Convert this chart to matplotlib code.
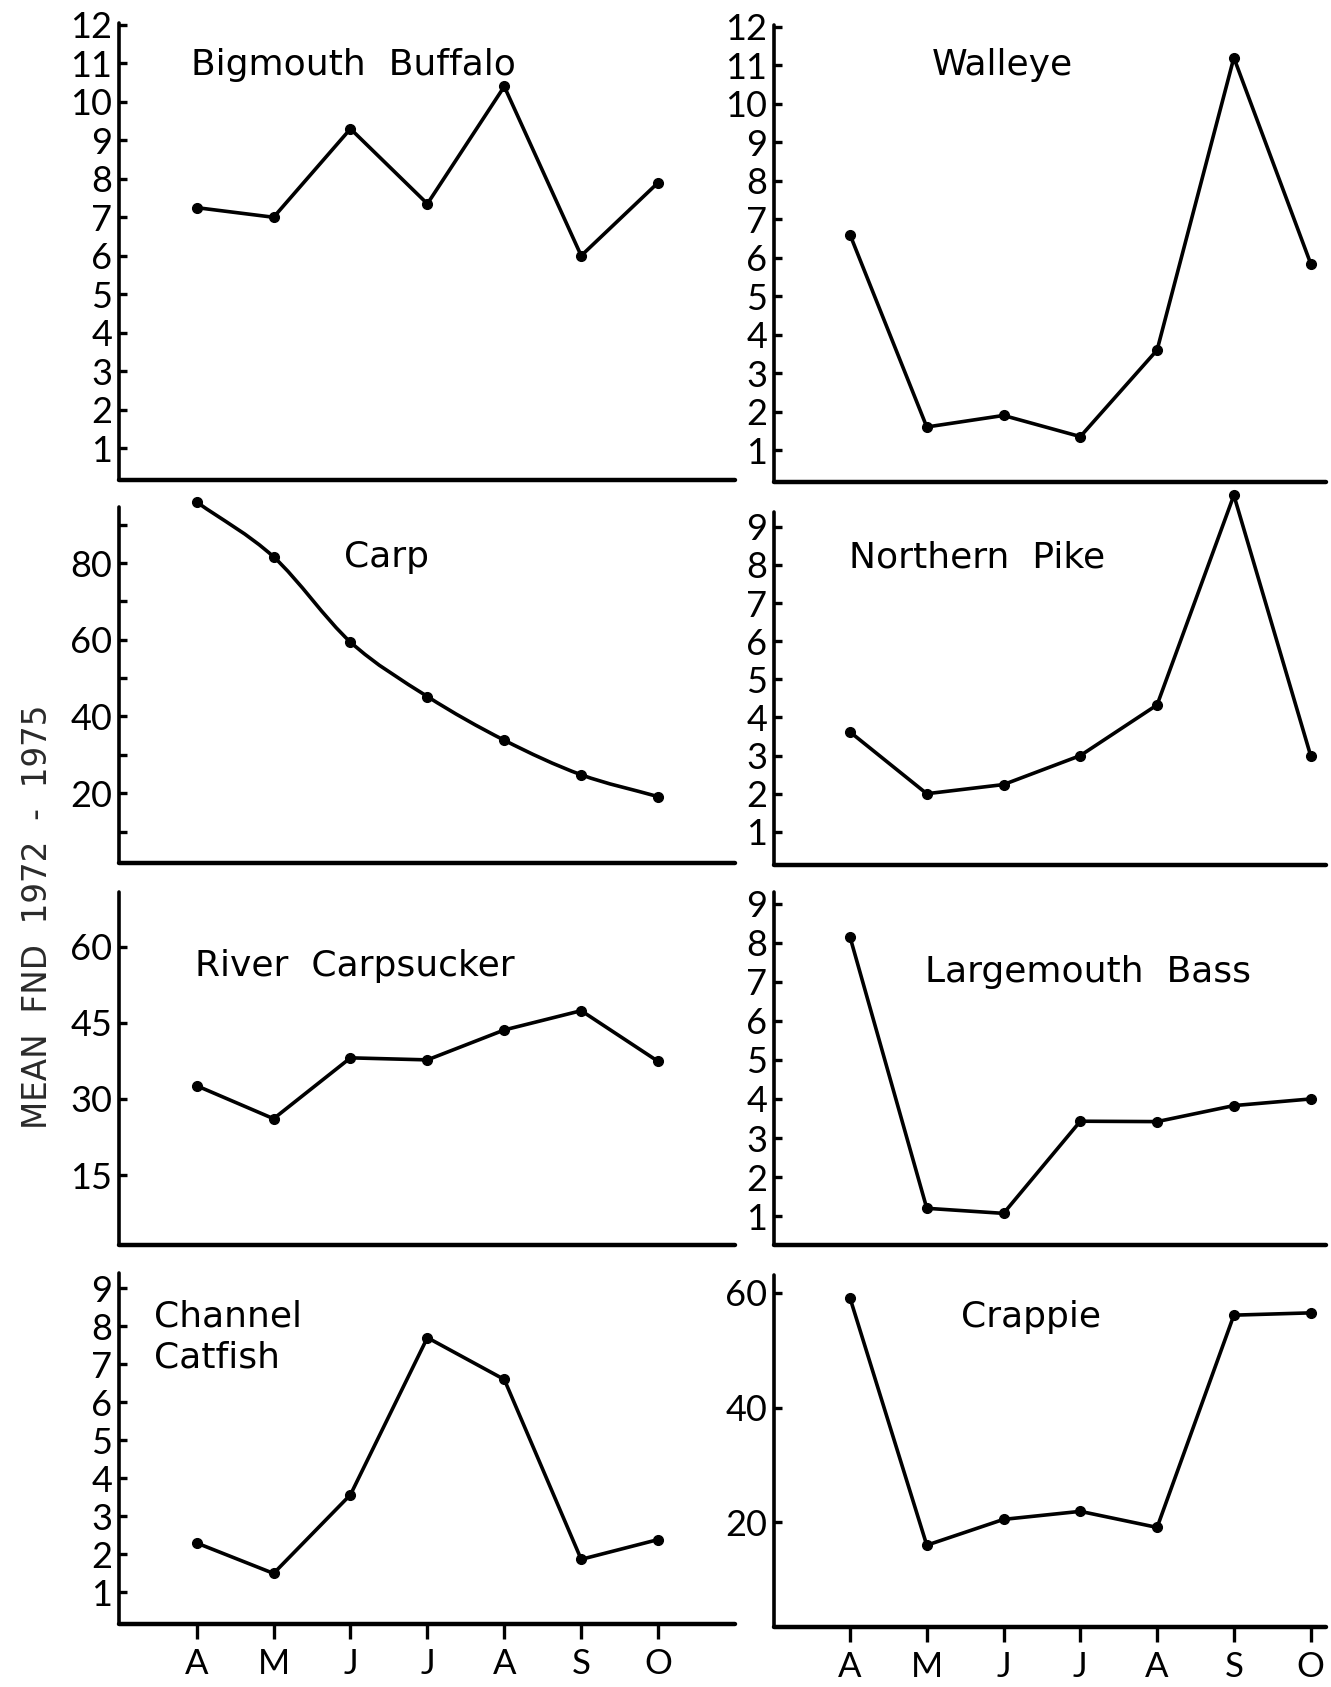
import numpy as np
import matplotlib
matplotlib.use("Agg")
import matplotlib.pyplot as plt
from matplotlib.path import Path
from matplotlib.patches import PathPatch

plt.rcParams['font.family'] = ['Lato', 'DejaVu Sans']
plt.rcParams['font.weight'] = 'normal'

# Months sampled (April through October)
months = ['A', 'M', 'J', 'J', 'A', 'S', 'O']

# Mean catch per net-day, 1972-1975
bigmouth_buffalo = [7.25, 7.0, 9.3, 7.35, 10.4, 6.0, 7.9]
walleye = [6.6, 1.6, 1.9, 1.35, 3.6, 11.2, 5.85]
carp = [95.9, 81.6, 59.4, 45.2, 33.8, 24.8, 19.1]
northern_pike = [3.62, 2.0, 2.24, 3.0, 4.33, 9.83, 3.0]
river_carpsucker = [32.6, 26.1, 38.1, 37.7, 43.6, 47.4, 37.4]
largemouth_bass = [8.15, 1.2, 1.07, 3.43, 3.42, 3.83, 4.0]
channel_catfish = [2.3, 1.5, 3.57, 7.7, 6.6, 1.87, 2.39]
crappie = [59.1, 16.0, 20.5, 21.9, 19.1, 56.1, 56.5]

W, H = 1331, 1687
fig = plt.figure(figsize=(W / 100, H / 100), dpi=100)
fig.patch.set_facecolor('white')

x = np.arange(len(months))

LEFT = dict(x0=119, x1=735, xlim=(-1.01, 7.0))
RIGHT = dict(x0=774, x1=1326, xlim=(-0.99, 6.2))

# name, values, column, top px, bottom px, ylim, major ticks, minor ticks, title px, smooth
panels = [
    ("Bigmouth  Buffalo", bigmouth_buffalo, LEFT, 23, 480, (0.17, 12.05), range(1, 13), [], (191, 65), False),
    ("Walleye", walleye, RIGHT, 25, 482, (0.17, 12.05), range(1, 13), [], (932, 65), False),
    ("Carp", carp, LEFT, 507, 863, (1.8, 94.6), [20, 40, 60, 80], [10, 30, 50, 70, 90], (344, 557), True),
    ("Northern  Pike", northern_pike, RIGHT, 512, 865, (0.13, 9.39), range(1, 10), [], (849, 557), False),
    ("River  Carpsucker", river_carpsucker, LEFT, 892, 1245, (1.2, 70.8), [15, 30, 45, 60], [], (195, 966), False),
    ("Largemouth  Bass", largemouth_bass, RIGHT, 892, 1245, (0.26, 9.3), range(1, 10), [], (925, 972), False),
    ("Channel\nCatfish", channel_catfish, LEFT, 1273, 1624, (0.17, 9.4), range(1, 10), [], (154, 1337), False),
    ("Crappie", crappie, RIGHT, 1275, 1627, (1.74, 63.1), [20, 40, 60], [], (961, 1317), False),
]

TICK_FS = 26
TITLE_FONT = ['DejaVu Sans']
for i, (name, vals, col, top, bot, ylim, major, minor, tpos, smooth) in enumerate(panels):
    ax = fig.add_axes([col['x0'] / W, 1 - bot / H, (col['x1'] - col['x0']) / W, (bot - top) / H])
    ax.set_facecolor('none')
    ax.set_xlim(*col['xlim'])
    ax.set_ylim(*ylim)
    for s in ('top', 'right'):
        ax.spines[s].set_visible(False)
    ax.spines['left'].set_linewidth(2.6)
    ax.spines['bottom'].set_linewidth(3.2)
    ax.spines['left'].set_capstyle('round')
    ax.spines['bottom'].set_capstyle('round')

    ax.set_yticks(list(major))
    ax.set_yticklabels([str(v) for v in major], fontsize=TICK_FS)
    if minor:
        ax.set_yticks(minor, minor=True)
    ax.tick_params(axis='y', which='both', direction='in', length=6, width=2.4, pad=5, colors='black')

    bottom_row = i >= 6
    ax.set_xticks(x)
    if bottom_row:
        ax.set_xticklabels(months, fontsize=25)
        ax.tick_params(axis='x', direction='out', length=11, width=2.4, pad=6)
    else:
        ax.tick_params(axis='x', length=0, labelbottom=False)

    if smooth:
        # Catmull-Rom curve through the monthly values, drawn as cubic Bezier segments
        pts = np.column_stack([x, vals]).astype(float)
        ext = np.vstack([2 * pts[0] - pts[1], pts, 2 * pts[-1] - pts[-2]])
        verts = [tuple(pts[0])]
        codes = [Path.MOVETO]
        for k in range(1, len(ext) - 2):
            p0, p1, p2, p3 = ext[k - 1], ext[k], ext[k + 1], ext[k + 2]
            c1 = p1 + (p2 - p0) / 6.0
            c2 = p2 - (p3 - p1) / 6.0
            verts += [tuple(c1), tuple(c2), tuple(p2)]
            codes += [Path.CURVE4] * 3
        ax.add_patch(PathPatch(Path(verts, codes), fill=False, lw=2.6, ec='black',
                               capstyle='round', joinstyle='round', clip_on=False))
        ax.plot(x, vals, ls='none', marker='o', ms=7, color='black', clip_on=False)
    else:
        ax.plot(x, vals, '-o', color='black', lw=2.6, ms=7,
                solid_joinstyle='round', solid_capstyle='round', clip_on=False)

    fig.text(tpos[0] / W, 1 - tpos[1] / H, name, fontsize=26, ha='left', va='center',
             linespacing=1.25, family=TITLE_FONT)

fig.text(38 / W, 1 - 917 / H, "MEAN  FND  1972  -  1975", rotation=90, fontsize=23.5,
         ha='center', va='center', color='#2a2a2a', family=TITLE_FONT)

fig.savefig('out.png', dpi=100, facecolor='white')
